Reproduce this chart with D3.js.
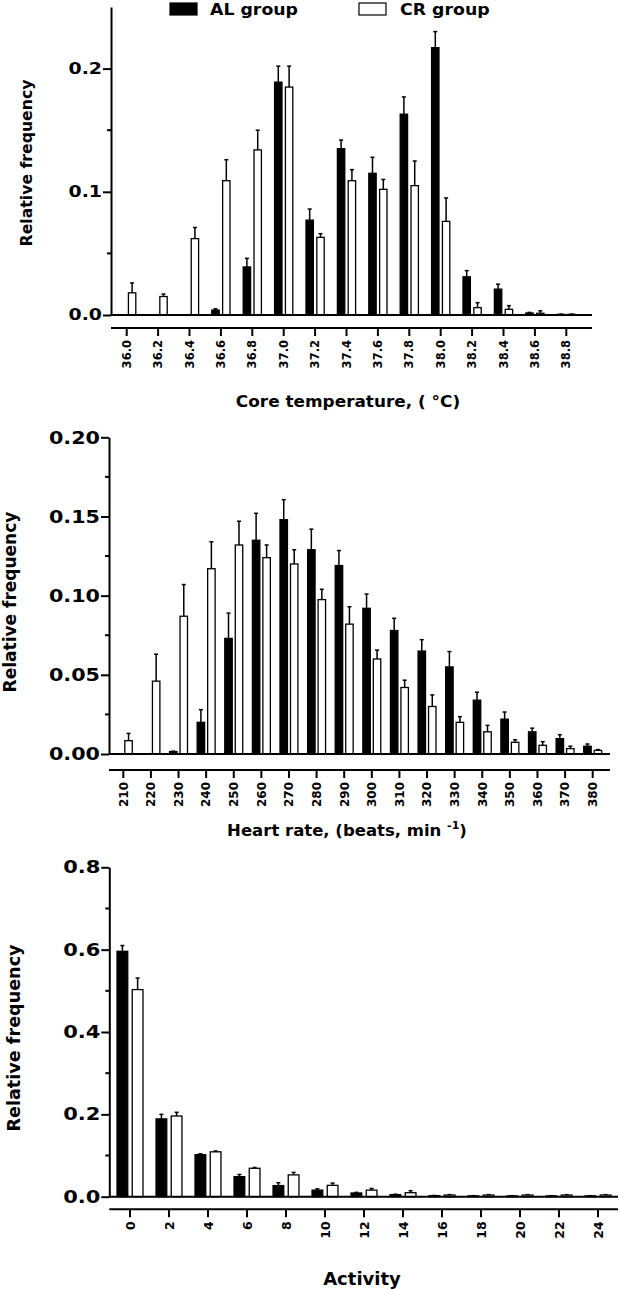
<!DOCTYPE html>
<html>
<head>
<meta charset="UTF-8">
<title>Relative frequency: AL vs CR group</title>
<script src="https://d3js.org/d3.v7.min.js"></script>
<style>
    body { margin: 0; background: #fff; }
    svg text { font-family: "DejaVu Sans", Verdana, sans-serif; font-weight: bold; fill: #000; }
</style>
</head>
<body>
<div id="chart"></div>
<script>
// ---- data ----
// core temperature (top panel)
const tempCats  = ["36.0","36.2","36.4","36.6","36.8","37.0","37.2","37.4","37.6","37.8","38.0","38.2","38.4","38.6","38.8"];
const tempAL    = [0, 0, 0, 0.004, 0.039, 0.189, 0.077, 0.135, 0.115, 0.163, 0.217, 0.031, 0.021, 0.0016, 0.0005];
const tempALerr = [0, 0, 0, 0.001, 0.007, 0.013, 0.009, 0.007, 0.013, 0.014, 0.013, 0.005, 0.004, 0.0005, 0.0002];
const tempCR    = [0.018, 0.015, 0.062, 0.109, 0.134, 0.185, 0.063, 0.109, 0.102, 0.105, 0.076, 0.006, 0.0046, 0.0014, 0.0005];
const tempCRerr = [0.008, 0.002, 0.009, 0.017, 0.016, 0.017, 0.003, 0.009, 0.008, 0.020, 0.019, 0.004, 0.003, 0.002, 0.0002];
const tempTicks = [0, 0.1, 0.2];

// heart rate (middle panel)
const hrCats  = ["210","220","230","240","250","260","270","280","290","300","310","320","330","340","350","360","370","380"];
const hrAL    = [0, 0, 0.0015, 0.020, 0.073, 0.135, 0.148, 0.129, 0.119, 0.092, 0.078, 0.065, 0.055, 0.034, 0.022, 0.014, 0.0097, 0.0049];
const hrALerr = [0, 0, 0.0003, 0.008, 0.016, 0.017, 0.0126, 0.013, 0.0095, 0.009, 0.0077, 0.0072, 0.0097, 0.005, 0.0045, 0.0023, 0.0025, 0.0014];
const hrCR    = [0.0084, 0.046, 0.087, 0.117, 0.132, 0.124, 0.120, 0.0975, 0.082, 0.060, 0.042, 0.030, 0.020, 0.014, 0.0074, 0.0055, 0.0034, 0.0023];
const hrCRerr = [0.0046, 0.017, 0.020, 0.017, 0.015, 0.008, 0.009, 0.0065, 0.011, 0.0056, 0.0046, 0.0073, 0.0036, 0.0041, 0.0016, 0.0023, 0.0015, 0.0005];
const hrTicks = [0, 0.05, 0.10, 0.15, 0.20];

// activity (bottom panel)
const actCats  = ["0","2","4","6","8","10","12","14","16","18","20","22","24"];
const actAL    = [0.596, 0.189, 0.102, 0.0486, 0.027, 0.016, 0.009, 0.005, 0.0025, 0.002, 0.002, 0.002, 0.002];
const actALerr = [0.014, 0.011, 0.002, 0.0054, 0.007, 0.003, 0.0015, 0.001, 0.0005, 0.0005, 0.0005, 0.0005, 0.0005];
const actCR    = [0.503, 0.196, 0.109, 0.069, 0.053, 0.0276, 0.016, 0.0097, 0.004, 0.004, 0.004, 0.004, 0.004];
const actCRerr = [0.028, 0.009, 0.002, 0.002, 0.006, 0.0054, 0.004, 0.0049, 0.001, 0.001, 0.001, 0.001, 0.001];
const actTicks = [0, 0.2, 0.4, 0.6, 0.8];

const legendNames = ["AL group", "CR group"];

const svg = d3.select("#chart").append("svg")
    .attr("width", 620)
    .attr("height", 1289);

// one panel = grouped bars + error bars + axes
function drawPanel(p) {
    const g = svg.append("g");

    const x = d3.scaleBand().domain(p.cats).range([p.bandLeft, p.bandRight]).padding(0);
    const y = d3.scaleLinear().domain([0, p.yMax]).range([p.zeroY, p.topY]);
    const step = x.step();
    const w = step * p.barFrac, gap = step * p.gapFrac;
    const cx = c => x(c) + step / 2;

    const rows = p.cats.map((c, i) => [
        {cat: c, v: p.al[i], e: p.alErr[i], fill: "#000", off: -gap / 2 - w},
        {cat: c, v: p.cr[i], e: p.crErr[i], fill: "#fff", off: gap / 2}
    ]).flat();

    // error bars (upper only)
    const eb = g.selectAll(".eb").data(rows.filter(d => d.e > 0)).join("g");
    eb.append("line")
        .attr("x1", d => cx(d.cat) + d.off + w / 2)
        .attr("x2", d => cx(d.cat) + d.off + w / 2)
        .attr("y1", d => y(d.v))
        .attr("y2", d => y(d.v + d.e))
        .attr("stroke", "#000").attr("stroke-width", 1.5);
    eb.append("line")
        .attr("x1", d => cx(d.cat) + d.off + w / 2 - 2)
        .attr("x2", d => cx(d.cat) + d.off + w / 2 + 2)
        .attr("y1", d => y(d.v + d.e))
        .attr("y2", d => y(d.v + d.e))
        .attr("stroke", "#000").attr("stroke-width", 1.5);

    // bars
    g.selectAll(".bar").data(rows).join("rect")
        .attr("x", d => cx(d.cat) + d.off)
        .attr("y", d => y(d.v))
        .attr("width", w)
        .attr("height", d => y(0) - y(d.v))
        .attr("fill", d => d.fill)
        .attr("stroke", "#000")
        .attr("stroke-width", 1.3);

    // zero line
    g.append("line")
        .attr("x1", p.axisX).attr("x2", p.plotRight)
        .attr("y1", y(0)).attr("y2", y(0))
        .attr("stroke", "#000").attr("stroke-width", 2);

    // y axis
    const ya = g.append("g")
        .attr("transform", `translate(${p.axisX},0)`)
        .call(d3.axisLeft(y).tickValues(p.ticks).tickSize(8).tickSizeOuter(0)
            .tickFormat(d3.format(p.fmt)));
    ya.select(".domain").attr("stroke-width", 2);
    ya.selectAll(".tick line").attr("stroke-width", 2);
    // the original glyphs are wider than DejaVu, so stretch them a little
    ya.selectAll("text")
        .attr("font-size", p.yFont)
        .attr("x", -9 / p.ySx)
        .attr("transform", `scale(${p.ySx},1)`);
    // minor ticks halfway between the labelled ones
    const minor = d3.pairs(p.ticks).map(([a, b]) => (a + b) / 2);
    g.selectAll(".minor").data(minor).join("line")
        .attr("x1", p.axisX - 4).attr("x2", p.axisX)
        .attr("y1", d => y(d)).attr("y2", d => y(d))
        .attr("stroke", "#000").attr("stroke-width", 2);

    // x axis, offset below the zero line
    g.append("line")
        .attr("x1", p.axisX).attr("x2", p.plotRight)
        .attr("y1", p.xAxisY).attr("y2", p.xAxisY)
        .attr("stroke", "#000").attr("stroke-width", 2);
    g.selectAll(".xt").data(p.cats).join("line")
        .attr("x1", d => cx(d)).attr("x2", d => cx(d))
        .attr("y1", p.xAxisY).attr("y2", p.xAxisY + 8)
        .attr("stroke", "#000").attr("stroke-width", 2);
    g.selectAll(".xl").data(p.cats).join("text")
        .attr("transform", d => `translate(${cx(d)},${p.xAxisY + 12}) rotate(-90)`)
        .attr("text-anchor", "end")
        .attr("dy", "0.36em")
        .attr("font-size", p.xFont)
        .text(d => d);

    // y title
    g.append("text")
        .attr("transform", `translate(${p.yTitleX},${p.yTitleY}) rotate(-90)`)
        .attr("text-anchor", "middle")
        .attr("font-size", p.yTitleFont)
        .text("Relative frequency");

    // x title
    const xt = g.append("text")
        .attr("transform", `translate(${p.xTitleX},${p.xTitleY}) scale(${p.xTitleSx},1)`)
        .attr("text-anchor", "middle")
        .attr("font-size", p.xTitleFont);
    p.xTitle(xt);
}

drawPanel({
    cats: tempCats, al: tempAL, alErr: tempALerr, cr: tempCR, crErr: tempCRerr,
    ticks: tempTicks, fmt: ".1f", yMax: 0.25,
    axisX: 111, plotRight: 592, bandLeft: 111, bandRight: 582,
    zeroY: 315, topY: 7, xAxisY: 328,
    barFrac: 0.235, gapFrac: 0.11,
    yFont: 15.5, ySx: 1.22, xFont: 11.5, yTitleFont: 15.7, xTitleFont: 15.5, xTitleSx: 1.09,
    yTitleX: 32, yTitleY: 163,
    xTitleX: 348, xTitleY: 407,
    xTitle: t => t.text("Core temperature, ( \u00B0C)")
});

drawPanel({
    cats: hrCats, al: hrAL, alErr: hrALerr, cr: hrCR, crErr: hrCRerr,
    ticks: hrTicks, fmt: ".2f", yMax: 0.20,
    axisX: 109, plotRight: 610, bandLeft: 109.5, bandRight: 606.5,
    zeroY: 754, topY: 437.3, xAxisY: 770,
    barFrac: 0.27, gapFrac: 0.11,
    yFont: 18, ySx: 1.15, xFont: 12, yTitleFont: 17, xTitleFont: 16.5, xTitleSx: 1.0,
    yTitleX: 16, yTitleY: 602,
    xTitleX: 347, xTitleY: 836,
    xTitle: t => {
        t.append("tspan").text("Heart rate, (beats, min ");
        t.append("tspan").attr("dy", -7).attr("font-size", 11).text("-1");
        t.append("tspan").attr("dy", 7).text(")");
    }
});

drawPanel({
    cats: actCats, al: actAL, alErr: actALerr, cr: actCR, crErr: actCRerr,
    ticks: actTicks, fmt: ".1f", yMax: 0.8,
    axisX: 109.3, plotRight: 618, bandLeft: 110.5, bandRight: 617.5,
    zeroY: 1196.7, topY: 867.3, xAxisY: 1209.3,
    barFrac: 0.275, gapFrac: 0.115,
    yFont: 17.5, ySx: 1.2, xFont: 12.5, yTitleFont: 17.6, xTitleFont: 18, xTitleSx: 1.0,
    yTitleX: 20, yTitleY: 1038,
    xTitleX: 362, xTitleY: 1285,
    xTitle: t => t.text("Activity")
});

// legend (top panel)
const legend = svg.append("g");
legend.selectAll("rect").data(legendNames).join("rect")
    .attr("x", (d, i) => i === 0 ? 170 : 359)
    .attr("y", 3)
    .attr("width", 27).attr("height", 12)
    .attr("fill", (d, i) => i === 0 ? "#000" : "#fff")
    .attr("stroke", "#000").attr("stroke-width", 1.2);
legend.selectAll("text").data(legendNames).join("text")
    .attr("transform", (d, i) => `translate(${i === 0 ? 210 : 400},15) scale(1.05,1)`)
    .attr("font-size", 16.5)
    .text(d => d);
</script>
</body>
</html>
